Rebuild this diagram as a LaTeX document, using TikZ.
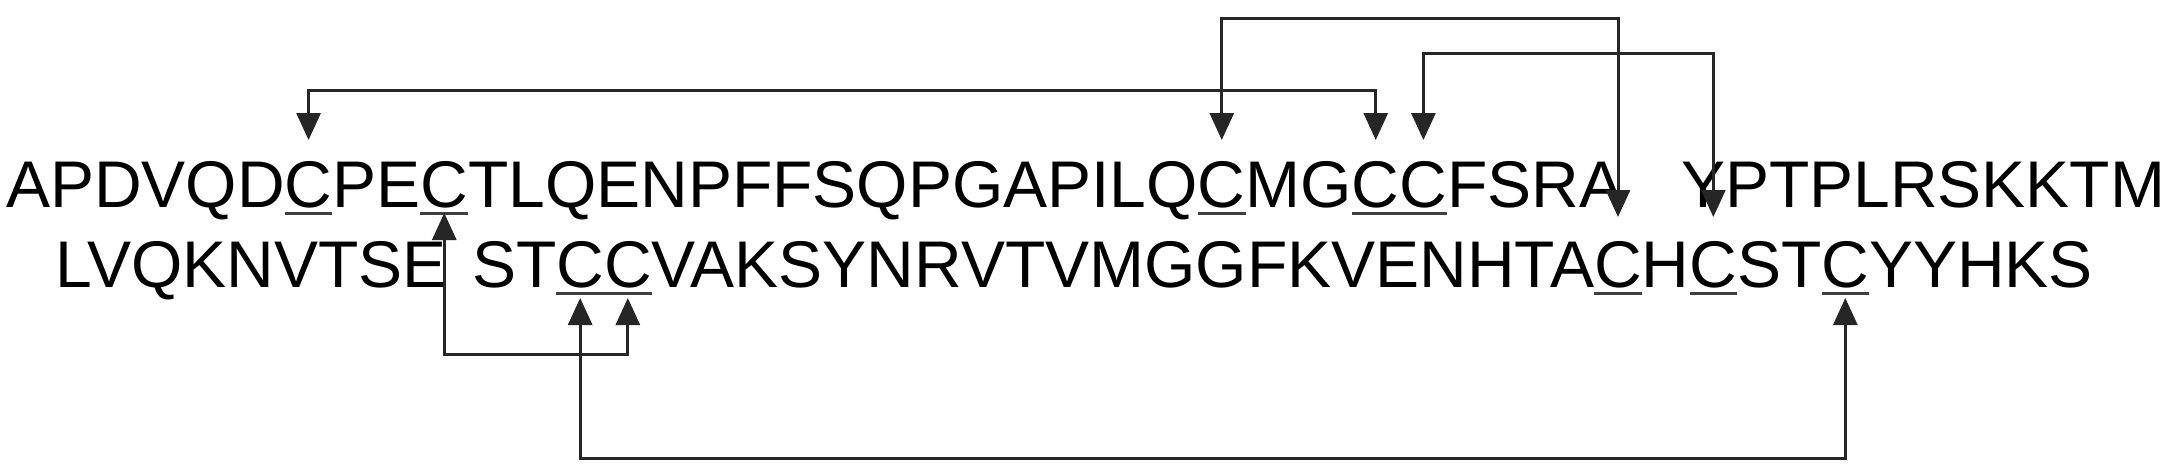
\documentclass[tikz,border=0pt]{standalone}
\usepackage{fontspec}
\setmainfont{Liberation Sans}
\usetikzlibrary{arrows.meta}
\begin{document}
\begin{tikzpicture}[x=1pt,y=-1pt,
  txt/.style={inner sep=0pt,outer sep=0pt,anchor=base west,font=\fontsize{66}{80}\selectfont},
  ul/.style={line width=3pt,color=black!75},
  con/.style={line width=3pt,color=black!85,{Triangle[width=24pt,length=27pt]}-{Triangle[width=24pt,length=27pt]}}]
\useasboundingbox (0,0) rectangle (2171,472);
% level coordinates
\coordinate (U1) at (0,213);
\coordinate (U2) at (0,293);
\coordinate (T1) at (0,140);
\coordinate (T2) at (0,217);
\coordinate (B1) at (0,213);
\coordinate (B2) at (0,298);
\coordinate (H1) at (0,90);
\coordinate (H2) at (0,18);
\coordinate (H3) at (0,53);
\coordinate (H4) at (0,354);
\coordinate (H5) at (0,458);
% line 1
\node[txt] (s1) at (6,207) {APDVQD};
\node[txt] (c1) at (s1.base east) {C};
\node[txt] (s2) at (c1.base east) {PE};
\node[txt] (c2) at (s2.base east) {C};
\node[txt] (s3) at (c2.base east) {TLQENPFFSQPGAPILQ};
\node[txt] (c3) at (s3.base east) {C};
\node[txt] (s4) at (c3.base east) {MG};
\node[txt] (c4) at (s4.base east) {C};
\node[txt] (c5) at (c4.base east) {C};
\node[txt] (s5) at (c5.base east) {FSRA};
\node[txt] (s6) at (1681,207) {YPTPLRSKKTM};
% line 2
\node[txt] (t2) at (472,287) {ST};
\node[txt,anchor=base east] (t1) at (447,287) {LVQKNVTSE};
\node[txt] (c6) at (t2.base east) {C};
\node[txt] (c7) at (c6.base east) {C};
\node[txt] (t3) at (c7.base east) {VAKSYNRVTVMGGFKVENHTA};
\node[txt] (c8) at (t3.base east) {C};
\node[txt] (t4) at (c8.base east) {H};
\node[txt] (c9) at (t4.base east) {C};
\node[txt] (t5) at (c9.base east) {ST};
\node[txt] (c10) at (t5.base east) {C};
\node[txt] (t6) at (c10.base east) {YYHKS};
% underlines
\foreach \n in {c1,c2,c3,c4,c5} \draw[ul] (\n.west |- U1) -- (\n.east |- U1);
\foreach \n in {c6,c7,c8,c9,c10} \draw[ul] (\n.west |- U2) -- (\n.east |- U2);
% connectors
\draw[con] (c1 |- T1) -- (c1 |- H1) -- (c4 |- H1) -- (c4 |- T1);
\draw[con] (c3 |- T1) -- (c3 |- H2) -- (c8 |- H2) -- (c8 |- T2);
\draw[con] (c5 |- T1) -- (c5 |- H3) -- (c9 |- H3) -- (c9 |- T2);
\draw[con] (c2 |- B1) -- (c2 |- H4) -- (c7 |- H4) -- (c7 |- B2);
\draw[con] (c6 |- B2) -- (c6 |- H5) -- (c10 |- H5) -- (c10 |- B2);
\end{tikzpicture}
\end{document}
